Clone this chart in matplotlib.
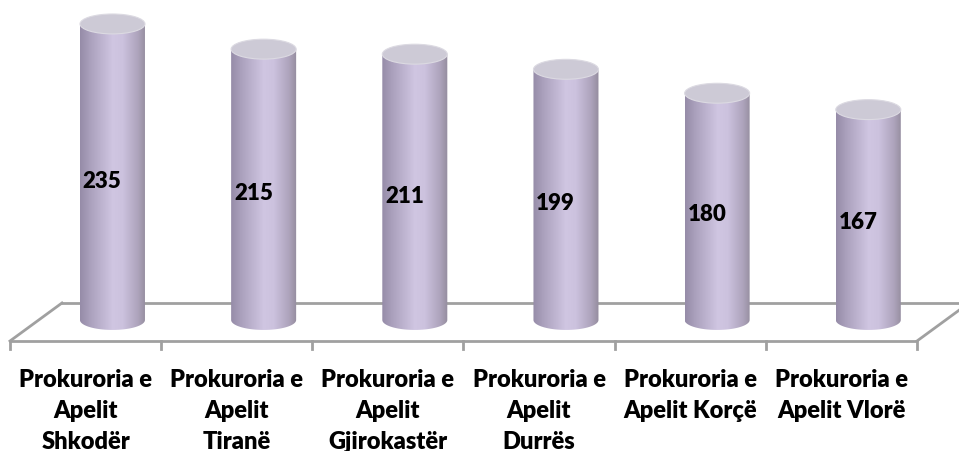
import numpy as np
import matplotlib.pyplot as plt
from matplotlib.patches import Ellipse, PathPatch
from matplotlib.path import Path
from matplotlib.colors import LinearSegmentedColormap

categories = ["Prokuroria e\nApelit\nShkodër", "Prokuroria e\nApelit\nTiranë",
              "Prokuroria e\nApelit\nGjirokastër", "Prokuroria e\nApelit\nDurrës",
              "Prokuroria e\nApelit Korçë", "Prokuroria e\nApelit Vlorë"]
values = [235, 215, 211, 199, 180, 167]

# 3d look settings (data units)
depth_dx, depth_dy = 0.344, 30.2
front_y = -16.7
rad_x, rad_y = 0.215, 7.9
shift = 0.178

fig = plt.figure(figsize=(9.59, 4.52), dpi=100)
ax = fig.add_axes([0, 0, 1, 1])
ax.set_axis_off()

cmap = LinearSegmentedColormap.from_list("cyl", [
    (0.0, (150/255, 140/255, 168/255)),
    (0.15, (170/255, 160/255, 188/255)),
    (0.5, (208/255, 198/255, 226/255)),
    (0.65, (204/255, 194/255, 222/255)),
    (0.88, (174/255, 164/255, 188/255)),
    (1.0, (148/255, 140/255, 158/255))])
grad = np.linspace(0, 1, 256).reshape(1, -1)

# floor
n = len(values)
grey = "#a0a0a0"
x0, x1 = -0.5, n - 0.5
ax.plot([x0, x1], [front_y, front_y], color=grey, lw=2, solid_capstyle="butt", zorder=1)
ax.plot([x0, x0 + depth_dx], [front_y, front_y + depth_dy], color=grey, lw=2, zorder=1)
ax.plot([x1, x1 + depth_dx], [front_y, front_y + depth_dy], color=grey, lw=2, zorder=1)
ax.plot([x0 + depth_dx, x1 + depth_dx], [front_y + depth_dy] * 2, color=grey, lw=2, zorder=1)
for b in np.arange(x0, x1 + 0.01, 1.0):
    ax.plot([b, b], [front_y, front_y - 6], color=grey, lw=2, zorder=1)

for i, (lab, v) in enumerate(zip(categories, values)):
    cx = i + shift
    t = np.linspace(np.pi, 2 * np.pi, 60)
    verts = [(cx - rad_x, v), (cx - rad_x, 0)]
    verts += list(zip(cx + rad_x * np.cos(t), rad_y * np.sin(t)))
    verts += [(cx + rad_x, v), (cx - rad_x, v)]
    codes = [Path.MOVETO] + [Path.LINETO] * (len(verts) - 2) + [Path.CLOSEPOLY]
    body = PathPatch(Path(verts, codes), facecolor="none", edgecolor="none")
    ax.add_patch(body)
    im = ax.imshow(grad, cmap=cmap, aspect="auto", extent=[cx - rad_x, cx + rad_x, -rad_y, v],
                   interpolation="bilinear", zorder=2)
    im.set_clip_path(body)
    top = Ellipse((cx, v), 2 * rad_x, 2 * rad_y, facecolor="#cdcad6", edgecolor="#dcdae2",
                  lw=0.8, zorder=3)
    ax.add_patch(top)
    ax.text(i + 0.11, v * 0.47, str(v), ha="center", va="center", fontsize=16,
            fontweight="heavy", family="Lato", color="black", zorder=4)
    ax.text(i, -38, lab, ha="center", va="top", fontsize=17, fontweight="heavy",
            family="Lato", linespacing=1.5, color="black")

ax.set_xlim(-0.566, 5.778)
ax.set_ylim(-104.0, 254.8)

fig.savefig("out.png", dpi=100)
